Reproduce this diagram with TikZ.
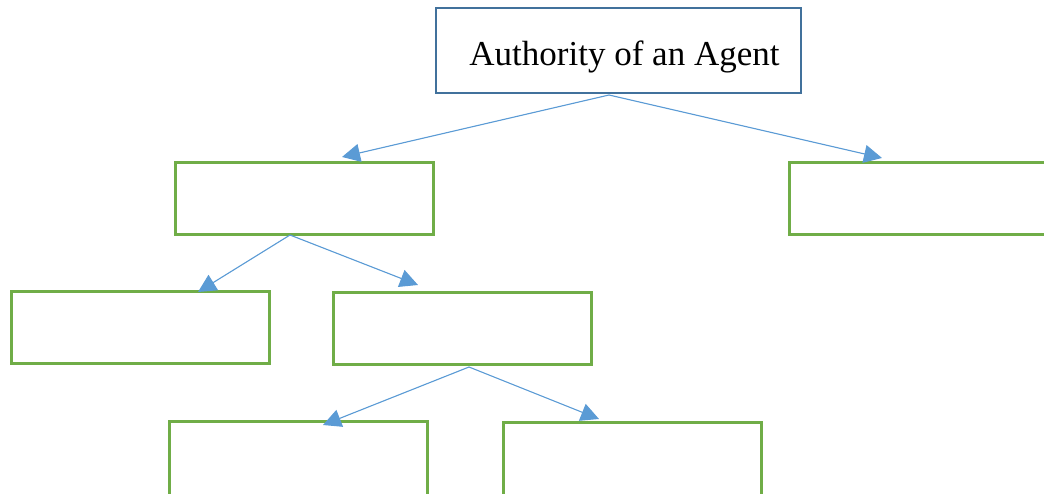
\documentclass[tikz,border=0pt]{standalone}
\usepackage{fontspec}
\setmainfont{Liberation Serif}
\usetikzlibrary{arrows.meta}
\definecolor{boxgreen}{HTML}{70AD47}
\definecolor{boxblue}{HTML}{41719C}
\definecolor{arrowblue}{HTML}{5B9BD5}
\tikzset{
  greenbox/.style={draw=boxgreen, line width=3pt, minimum width=258pt, minimum height=72pt, inner sep=0pt, fill=none},
  topbox/.style={draw=boxblue, line width=2.8pt, minimum width=365pt, minimum height=85pt, inner sep=0pt},
  conn/.style={draw=arrowblue, line width=1.1pt, -{Triangle[length=18pt,width=18pt]}, fill=arrowblue}
}
\begin{document}
\begin{tikzpicture}[x=1pt,y=-1pt]
\useasboundingbox (0,0) rectangle (1044,493);
\clip (0,0) rectangle (1044,493);
\node[topbox] (top) at (618.5,50.5) {};
\node[font=\fontsize{35}{40}\selectfont, anchor=base, inner sep=0pt] (title) at (624.5,65) {Authority of an Agent};
\node[greenbox] (b1) at (304,198) {};
\node[greenbox] (b2) at (918,198) {};
\node[greenbox] (b3) at (140,327) {};
\node[greenbox] (b4) at (462,328) {};
\node[greenbox, minimum height=76pt] (b5) at (298,459) {};
\node[greenbox, minimum height=76pt] (b6) at (632,460) {};
\coordinate (s0) at (609,95);
\coordinate (t1) at (342,157);
\coordinate (t2) at (882,158);
\coordinate (s1) at (290,235);
\coordinate (t3) at (198,292);
\coordinate (t4) at (418,285);
\coordinate (s4) at (469,367);
\coordinate (t5) at (323,425);
\coordinate (t6) at (599,419);
\draw[conn] (s0) -- (t1);
\draw[conn] (s0) -- (t2);
\draw[conn] (s1) -- (t3);
\draw[conn] (s1) -- (t4);
\draw[conn] (s4) -- (t5);
\draw[conn] (s4) -- (t6);
\end{tikzpicture}
\end{document}
